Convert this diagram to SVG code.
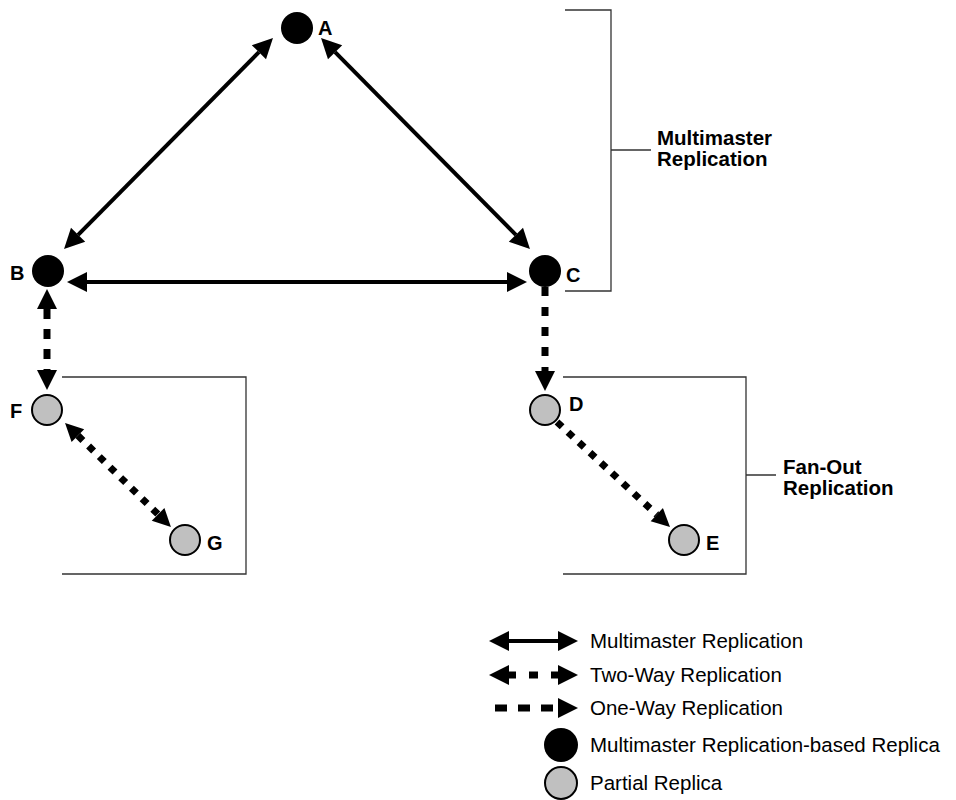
<svg xmlns="http://www.w3.org/2000/svg" width="956" height="800" viewBox="0 0 956 800">
<style>
.bg{fill:#fff}
.m{fill:#000}
.p{fill:#c0c0c0;stroke:#000;stroke-width:2}
.lbl{font-family:"Liberation Sans",Arial,sans-serif;font-weight:bold;font-size:20.5px;fill:#000}
.nl{font-family:"Liberation Sans",Arial,sans-serif;font-weight:bold;font-size:20px;fill:#000}
.leg{font-family:"Liberation Sans",Arial,sans-serif;font-size:20.5px;fill:#000}
.br{fill:none;stroke:#333;stroke-width:1.3}
.solid{fill:none;stroke:#000;stroke-width:4}
.dash{fill:none;stroke:#000;stroke-width:7}
</style>
<defs>
<marker id="ah" markerUnits="userSpaceOnUse" markerWidth="22" markerHeight="22" refX="0" refY="10" orient="auto-start-reverse" viewBox="0 0 22 22" overflow="visible">
<path d="M0,0 L20,10 L0,20 z" fill="#000"/>
</marker>
<marker id="as" markerUnits="userSpaceOnUse" markerWidth="20" markerHeight="20" refX="0" refY="9" orient="auto-start-reverse" viewBox="0 0 20 20" overflow="visible">
<path d="M0,0 L18,9 L0,18 z" fill="#000"/>
</marker>
</defs>
<rect class="bg" x="0" y="0" width="956" height="800"/>

<g id="brackets">
<path class="br" d="M565,10 H611 V291 H565 M611,150 H651"/>
<path class="br" d="M62,377 H246 V574 H62"/>
<path class="br" d="M563,377 H746 V574 H563 M746,475 H776"/>
<text class="lbl" x="657" y="145">Multimaster</text>
<text class="lbl" x="657" y="166">Replication</text>
<text class="lbl" x="783" y="474">Fan-Out</text>
<text class="lbl" x="783" y="495">Replication</text>
</g>

<g id="connectors">
<line class="solid" x1="258.9" y1="52.2" x2="78.1" y2="234.8" marker-start="url(#ah)" marker-end="url(#ah)"/>
<line class="solid" x1="335.1" y1="52.2" x2="515.9" y2="234.8" marker-start="url(#ah)" marker-end="url(#ah)"/>
<line class="solid" x1="87" y1="282" x2="507" y2="282" marker-start="url(#ah)" marker-end="url(#ah)"/>
<line class="dash" x1="47" y1="309" x2="47" y2="370" stroke-dasharray="10 10" marker-start="url(#ah)" marker-end="url(#ah)"/>
<line class="dash" x1="545" y1="287" x2="545" y2="371" stroke-dasharray="9 11" marker-end="url(#ah)"/>
<line class="dash" x1="77.9" y1="435.6" x2="158.1" y2="514.4" stroke-dasharray="7 8" marker-start="url(#as)" marker-end="url(#as)"/>
<line class="dash" x1="557" y1="422" x2="656.8" y2="514.7" stroke-dasharray="7 8" marker-end="url(#as)"/>
</g>

<g id="A"><circle class="m" cx="297" cy="28" r="16"/><text class="nl" x="318" y="35">A</text></g>
<g id="B"><circle class="m" cx="48" cy="271" r="16"/><text class="nl" x="10" y="280">B</text></g>
<g id="C"><circle class="m" cx="545" cy="271" r="16"/><text class="nl" x="566" y="282">C</text></g>
<g id="D"><circle class="p" cx="545" cy="410" r="15"/><text class="nl" x="569" y="411">D</text></g>
<g id="E"><circle class="p" cx="684" cy="540" r="15"/><text class="nl" x="706" y="550">E</text></g>
<g id="F"><circle class="p" cx="47" cy="410" r="15"/><text class="nl" x="10" y="418">F</text></g>
<g id="G"><circle class="p" cx="185" cy="540" r="15"/><text class="nl" x="207" y="550">G</text></g>

<g id="legend">
<line class="solid" x1="509" y1="641" x2="558" y2="641" marker-start="url(#ah)" marker-end="url(#ah)"/>
<text class="leg" x="590" y="648">Multimaster Replication</text>
<line class="dash" x1="509" y1="675" x2="558" y2="675" stroke-dasharray="7 13 9 13 7" marker-start="url(#ah)" marker-end="url(#ah)"/>
<text class="leg" x="590" y="682">Two-Way Replication</text>
<line class="dash" x1="495" y1="708" x2="558" y2="708" stroke-dasharray="12 11" marker-end="url(#ah)"/>
<text class="leg" x="590" y="715">One-Way Replication</text>
<circle class="m" cx="561" cy="745" r="17"/>
<text class="leg" x="590" y="752">Multimaster Replication-based Replica</text>
<circle class="p" cx="561" cy="783" r="16"/>
<text class="leg" x="590" y="790">Partial Replica</text>
</g>
</svg>
